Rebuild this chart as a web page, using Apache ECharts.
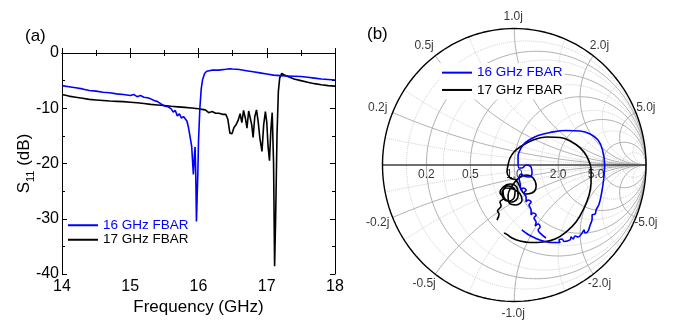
<!DOCTYPE html>
<html><head><meta charset="utf-8">
<script src="https://cdn.jsdelivr.net/npm/echarts@6/dist/echarts.min.js"></script>
<style>html,body{margin:0;padding:0;background:#fff}#c{width:674px;height:322px}</style>
</head><body><div id="c"></div>
<script>
// ---------- DATA ----------
const seriesNames = ['16 GHz FBAR', '17 GHz FBAR'];
const xTicks = [14, 15, 16, 17, 18];
const yTicks = [0, -10, -20, -30, -40];

const freqBlue = [14.0,14.1,14.2,14.3,14.4,14.5,14.6,14.7,14.8,14.9,15.0,15.05,15.1,15.15,15.2,15.25,15.3,15.35,15.4,15.45,15.5,15.55,15.6,15.63,15.66,15.69,15.72,15.75,15.78,15.8,15.83,15.85,15.87,15.9,15.915,15.925,15.94,15.95,15.96,15.97,15.98,15.99,16.0,16.02,16.04,16.06,16.09,16.12,16.16,16.2,16.3,16.4,16.46,16.5,16.6,16.7,16.8,16.9,17.0,17.1,17.2,17.3,17.4,17.5,17.6,17.7,17.8,17.9,18.0];
const s11Blue  = [-5.9,-6.1,-6.3,-6.5,-6.8,-6.9,-7.1,-7.2,-7.4,-7.5,-7.7,-7.5,-7.9,-7.7,-8.0,-8.1,-8.3,-8.6,-8.8,-9.2,-9.6,-9.7,-10.1,-10.7,-10.4,-11.4,-11.0,-11.8,-11.5,-11.6,-12.3,-13.3,-14.7,-16.9,-20.0,-22.0,-18.5,-17.0,-22.0,-30.5,-26.0,-22.0,-16.0,-10.0,-6.5,-4.8,-3.7,-3.3,-3.2,-3.1,-3.1,-2.95,-2.85,-2.9,-3.0,-3.2,-3.4,-3.6,-3.8,-4.0,-4.1,-4.15,-4.2,-4.25,-4.4,-4.55,-4.7,-4.8,-4.9];

const freqBlack = [14.0,14.1,14.2,14.3,14.4,14.5,14.6,14.7,14.8,14.9,15.0,15.1,15.2,15.3,15.4,15.5,15.6,15.7,15.8,15.9,16.0,16.05,16.1,16.15,16.2,16.25,16.3,16.35,16.4,16.43,16.46,16.49,16.52,16.55,16.58,16.61,16.635,16.66,16.69,16.71,16.735,16.76,16.78,16.80,16.825,16.85,16.875,16.90,16.93,16.955,16.98,17.0,17.02,17.04,17.06,17.08,17.10,17.115,17.13,17.15,17.17,17.19,17.22,17.26,17.3,17.4,17.5,17.6,17.7,17.8,17.9,18.0];
const s11Black  = [-7.5,-7.8,-8.0,-8.2,-8.4,-8.5,-8.6,-8.7,-8.75,-8.8,-8.9,-9.0,-9.15,-9.3,-9.4,-9.5,-9.65,-9.75,-9.85,-9.95,-10.1,-10.2,-10.3,-10.8,-10.6,-10.9,-10.9,-11.1,-11.1,-12.0,-14.5,-14.6,-13.5,-13.0,-12.2,-11.0,-12.6,-10.4,-12.0,-13.6,-10.5,-10.3,-13.0,-15.3,-11.5,-10.3,-12.5,-15.5,-17.8,-13.0,-10.6,-12.5,-17.0,-19.5,-14.0,-10.8,-20.0,-38.6,-30.0,-15.0,-7.0,-4.5,-3.7,-4.0,-4.2,-4.7,-5.0,-5.3,-5.55,-5.75,-5.9,-6.0];

// Smith chart grid values (normalised resistance / reactance)
const smithR = [0.2, 0.5, 1.0, 2.0, 5.0];
const smithX = [0.2, 0.5, 1.0, 2.0, 5.0];
const smithMinorR = [0.1, 0.3, 0.7, 1.5, 3.0, 10.0];
const smithMinorX = [0.1, 0.3, 0.7, 1.5, 3.0, 10.0];

// Reflection coefficient traces (real / imaginary parts of S11)
const gammaReBlue = [0.241,0.203,0.181,0.196,0.181,0.158,0.166,0.150,0.166,0.143,0.128,0.128,0.112,0.128,0.105,0.090,0.090,0.074,0.090,0.067,0.052,0.044,0.036,0.052,0.074,0.112,0.135,0.128,0.090,0.059,0.036,0.029,0.029,0.044,0.067,0.112,0.181,0.272,0.393,0.500,0.576,0.636,0.670,0.686,0.678,0.663,0.644,0.621,0.614,0.591,0.591,0.576,0.560,0.538,0.530,0.515,0.485,0.462,0.447,0.431,0.424,0.378,0.363,0.340,0.348,0.287,0.219,0.158,0.105,0.057];
const gammaImBlue = [-0.535,-0.505,-0.476,-0.454,-0.432,-0.447,-0.418,-0.388,-0.366,-0.352,-0.366,-0.330,-0.293,-0.271,-0.256,-0.271,-0.234,-0.205,-0.183,-0.168,-0.183,-0.132,-0.095,-0.066,-0.081,-0.088,-0.059,-0.015,0.000,-0.022,-0.022,0.022,0.066,0.110,0.147,0.183,0.216,0.238,0.253,0.249,0.227,0.183,0.110,0.000,-0.110,-0.205,-0.286,-0.330,-0.359,-0.366,-0.396,-0.440,-0.484,-0.498,-0.476,-0.498,-0.527,-0.520,-0.542,-0.527,-0.549,-0.560,-0.542,-0.549,-0.568,-0.568,-0.557,-0.535,-0.509,-0.476];

const gammaReBlack = [-0.131,-0.115,-0.127,-0.100,-0.108,-0.077,-0.108,-0.085,-0.032,0.021,0.029,-0.017,-0.070,-0.085,-0.047,0.006,-0.002,-0.055,-0.093,-0.062,-0.009,0.044,0.059,0.014,-0.039,-0.047,-0.017,0.036,0.090,0.143,0.166,0.135,0.082,0.044,0.014,-0.032,-0.055,-0.047,-0.032,-0.002,0.044,0.143,0.249,0.348,0.424,0.500,0.553,0.583,0.583,0.568,0.530,0.469,0.393,0.310,0.219,0.120,0.044,-0.017,-0.062,-0.077];
const gammaImBlack = [-0.403,-0.359,-0.337,-0.300,-0.271,-0.242,-0.205,-0.161,-0.139,-0.168,-0.227,-0.271,-0.249,-0.190,-0.154,-0.183,-0.242,-0.264,-0.212,-0.168,-0.176,-0.212,-0.256,-0.293,-0.278,-0.220,-0.154,-0.095,-0.073,-0.095,-0.154,-0.205,-0.212,-0.161,-0.110,-0.095,-0.051,0.000,0.051,0.095,0.132,0.183,0.205,0.201,0.176,0.125,0.059,-0.037,-0.132,-0.220,-0.315,-0.418,-0.491,-0.542,-0.564,-0.568,-0.557,-0.535,-0.505,-0.498];

// ---------- STYLE ----------
const FONT = '"Liberation Sans", Arial, sans-serif';
const BLUE = '#0000ff';
const BLACK = '#000000';
const rLabelNudge = {5: -6};

// ---------- helpers ----------
const zip = (a, b) => a.map((v, i) => [v, b[i]]);
function rCircle(r) {
  const c = r / (1 + r), R = 1 / (1 + r), pts = [];
  for (let k = 0; k <= 360; k += 2) {
    const t = k * Math.PI / 180;
    pts.push([c + R * Math.cos(t), R * Math.sin(t)]);
  }
  return pts;
}
function xArc(x) {
  const pts = [];
  const N = 160;
  for (let k = 0; k < N; k++) {
    const s = Math.tan(k / N * Math.PI / 2);
    const d = (s + 1) * (s + 1) + x * x;
    pts.push([(s * s - 1 + x * x) / d, 2 * x / d]);
  }
  pts.push([1, 0]);
  return pts;
}
function gridSeries(data, style) {
  return {type: 'line', xAxisIndex: 2, yAxisIndex: 2, data, showSymbol: false, silent: true,
    animation: false, z: 1, lineStyle: style, clip: false};
}

const majorStyle = {color: '#b0b0b0', width: 1};
const minorStyle = {color: '#d2d2d2', width: 1, type: 'dotted'};
const smithSeries = [];
smithMinorR.forEach(r => smithSeries.push(gridSeries(rCircle(r), minorStyle)));
smithMinorX.forEach(x => { smithSeries.push(gridSeries(xArc(x), minorStyle)); smithSeries.push(gridSeries(xArc(-x), minorStyle)); });
smithR.forEach(r => smithSeries.push(gridSeries(rCircle(r), majorStyle)));
smithX.forEach(x => { smithSeries.push(gridSeries(xArc(x), majorStyle)); smithSeries.push(gridSeries(xArc(-x), majorStyle)); });
smithSeries.push(Object.assign(gridSeries(xArc(0), {color: '#404040', width: 1.4}), {z: 2}));
smithSeries.push(Object.assign(gridSeries(rCircle(0), {color: '#000', width: 1.4}), {z: 2}));

const rLabels = smithR.map(r => ({
  value: [(r - 1) / (r + 1), 0],
  label: {formatter: r.toFixed(1), offset: [rLabelNudge[r] || 0, 10]}
}));
const xLabels = [];
smithX.forEach(x => {
  [1, -1].forEach(sg => {
    const d = x * x + 1, k = 1.09;
    const gr = (x * x - 1) / d;
    xLabels.push({value: [k * gr, k * sg * 2 * x / d],
      label: {formatter: (sg < 0 ? '-' : '') + x.toFixed(1) + 'j', offset: [gr < -0.1 ? -4 : -1, 0]}});
  });
});

const axisCommon = {
  type: 'value', axisLine: {lineStyle: {color: '#000', width: 1}},
  axisTick: {inside: true, length: 5, lineStyle: {color: '#000'}},
  minorTick: {show: true, splitNumber: 2, length: 3, lineStyle: {color: '#000'}},
  splitLine: {show: false}, minorSplitLine: {show: false}
};

const option = {
  animation: false,
  backgroundColor: '#fff',
  textStyle: {fontFamily: FONT},
  grid: [
    {left: 62, top: 53, width: 273, height: 221, outerBoundsMode: 'none'},
    {left: 382.5, top: 28.5, width: 263.5, height: 273, outerBoundsMode: 'none'}
  ],
  xAxis: [
    Object.assign({}, axisCommon, {gridIndex: 0, min: xTicks[0], max: xTicks[xTicks.length - 1], interval: 1, position: 'bottom',
      axisLabel: {fontSize: 16, color: '#000', margin: 5, fontFamily: FONT, showMinLabel: true, showMaxLabel: true},
      name: 'Frequency (GHz)', nameLocation: 'middle', nameGap: 25, nameMoveOverlap: false,
      nameTextStyle: {fontSize: 17, color: '#000', fontFamily: FONT}}),
    Object.assign({}, axisCommon, {gridIndex: 0, min: 14, max: 18, interval: 1, position: 'top', axisLabel: {show: false}}),
    {gridIndex: 1, type: 'value', min: -1, max: 1, show: false}
  ],
  yAxis: [
    Object.assign({}, axisCommon, {gridIndex: 0, min: yTicks[yTicks.length - 1], max: yTicks[0], interval: 10, position: 'left',
      axisLabel: {fontSize: 16, color: '#000', margin: 3, fontFamily: FONT, showMinLabel: true, showMaxLabel: true},
      name: '{m|S}{s|11}{m| (dB)}', nameLocation: 'middle', nameGap: 26, nameRotate: 90, nameMoveOverlap: false,
      nameTextStyle: {color: '#000', rich: {
        m: {fontSize: 17, lineHeight: 24, fontFamily: FONT, color: '#000'},
        s: {fontSize: 11, lineHeight: 11, verticalAlign: 'bottom', fontFamily: FONT, color: '#000'}
      }}}),
    Object.assign({}, axisCommon, {gridIndex: 0, min: -40, max: 0, interval: 10, position: 'right', axisLabel: {show: false}}),
    {gridIndex: 1, type: 'value', min: -1, max: 1, show: false}
  ],
  legend: [
    {left: 68, top: 218, orient: 'vertical', padding: 0, itemWidth: 30, itemHeight: 2, itemGap: 0, icon: 'rect',
      selectedMode: false,
      textStyle: {fontSize: 13.5, lineHeight: 14.5, color: '#000', fontFamily: FONT},
      data: [{name: seriesNames[0], textStyle: {color: BLUE}}, {name: seriesNames[1]}]},
    {left: 440, top: 63, orient: 'vertical', padding: [1, 2], itemWidth: 30, itemHeight: 2, itemGap: 0, icon: 'rect',
      selectedMode: false, backgroundColor: '#fff',
      textStyle: {fontSize: 13.5, lineHeight: 17.3, color: '#000', fontFamily: FONT},
      data: [{name: seriesNames[0], textStyle: {color: BLUE}}, {name: seriesNames[1]}]}
  ],
  graphic: [
    {type: 'text', left: 25, top: 28, style: {text: '(a)', fontSize: 17, fill: '#000', fontFamily: FONT}},
    {type: 'text', left: 367, top: 26, style: {text: '(b)', fontSize: 17, fill: '#000', fontFamily: FONT}}
  ],
  series: [
    {name: seriesNames[1], type: 'line', xAxisIndex: 0, yAxisIndex: 0, data: zip(freqBlack, s11Black),
      showSymbol: false, lineStyle: {color: BLACK, width: 1.6}, itemStyle: {color: BLACK}, z: 3},
    {name: seriesNames[0], type: 'line', xAxisIndex: 0, yAxisIndex: 0, data: zip(freqBlue, s11Blue),
      showSymbol: false, lineStyle: {color: BLUE, width: 1.6}, itemStyle: {color: BLUE}, z: 4},
    ...smithSeries,
    {name: seriesNames[1], type: 'line', xAxisIndex: 2, yAxisIndex: 2, data: zip(gammaReBlack, gammaImBlack),
      showSymbol: false, smooth: 0.4, lineStyle: {color: BLACK, width: 1.6}, itemStyle: {color: BLACK}, z: 3},
    {name: seriesNames[0], type: 'line', xAxisIndex: 2, yAxisIndex: 2, data: zip(gammaReBlue, gammaImBlue),
      showSymbol: false, smooth: 0.4, lineStyle: {color: BLUE, width: 1.6}, itemStyle: {color: BLUE}, z: 4},
    {type: 'scatter', xAxisIndex: 2, yAxisIndex: 2, symbolSize: 0, silent: true, clip: false, z: 5, data: rLabels,
      label: {show: true, position: 'inside', fontSize: 12, color: '#000', fontFamily: FONT}},
    {type: 'scatter', xAxisIndex: 2, yAxisIndex: 2, symbolSize: 0, silent: true, clip: false, z: 5, data: xLabels,
      label: {show: true, position: 'inside', fontSize: 12, color: '#000', fontFamily: FONT}}
  ]
};
const chart = echarts.init(document.getElementById('c'), null, {renderer: 'canvas'});
chart.setOption(option);
</script></body></html>
